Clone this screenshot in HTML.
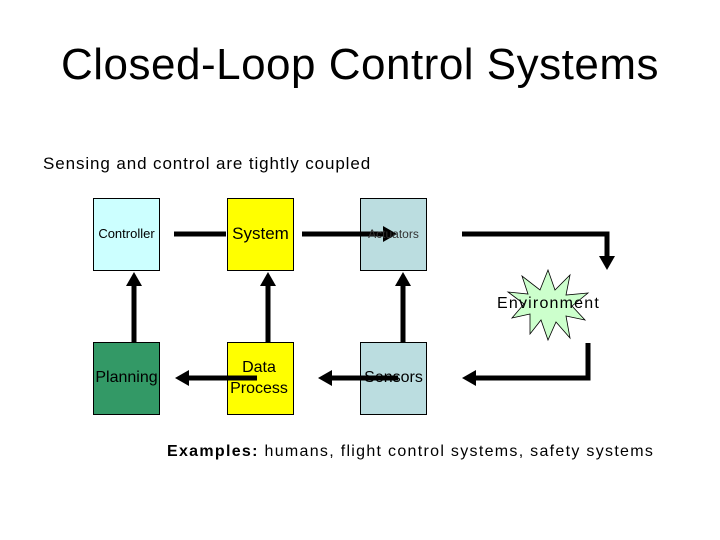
<!DOCTYPE html>
<html><head><style>
body{margin:0;width:720px;height:540px;background:#fff;position:relative;overflow:hidden;font-family:"Liberation Sans",sans-serif;}
.t{position:absolute;white-space:nowrap;color:#000;}
.b{position:absolute;border:1px solid #000;box-sizing:border-box;}
</style></head><body>
<div class="t" style="left:0;width:720px;text-align:center;top:40px;font-size:44px;letter-spacing:0.5px;">Closed-Loop Control Systems</div>
<div class="t" style="left:43px;top:154px;font-size:17px;letter-spacing:0.9px;">Sensing and control are tightly coupled</div>

<div class="b" style="left:93px;top:198px;width:67px;height:73px;background:#ccffff;"></div>
<div class="b" style="left:227px;top:198px;width:67px;height:73px;background:#ffff00;"></div>
<div class="b" style="left:360px;top:198px;width:67px;height:73px;background:#bbdde0;"></div>
<div class="b" style="left:93px;top:342px;width:67px;height:73px;background:#339966;"></div>
<div class="b" style="left:227px;top:342px;width:67px;height:73px;background:#ffff00;"></div>
<div class="b" style="left:360px;top:342px;width:67px;height:73px;background:#bbdde0;"></div>

<svg width="720" height="540" style="position:absolute;left:0;top:0">
<polygon points="548,270 555,290 570,275 566,295 588,293 572,306 585,320 566,316 570,338 556,322 548,340 541,320 530,334 530,314 512,318 524,304 508,292 528,294 522,276 540,290" fill="#ccffcc" stroke="#000" stroke-width="0.8"/>
<g stroke="#000" stroke-width="5" fill="none">
<line x1="174" y1="234" x2="226" y2="234"/>
<line x1="302" y1="234" x2="385" y2="234"/>
<polyline points="462,234 607,234 607,262"/>
<polyline points="588,343 588,378 475,378"/>
<line x1="398" y1="378" x2="330" y2="378"/>
<line x1="257" y1="378" x2="188" y2="378"/>
<line x1="134" y1="342" x2="134" y2="284"/>
<line x1="268" y1="342" x2="268" y2="284"/>
<line x1="403" y1="342" x2="403" y2="284"/>
</g>
<g fill="#000">
<polygon points="397,234 383,226 383,242"/>
<polygon points="607,270 599,256 615,256"/>
<polygon points="462,378 476,370 476,386"/>
<polygon points="318,378 332,370 332,386"/>
<polygon points="175,378 189,370 189,386"/>
<polygon points="134,272 126,286 142,286"/>
<polygon points="268,272 260,286 276,286"/>
<polygon points="403,272 395,286 411,286"/>
</g>
</svg>

<div class="t" style="left:93px;width:67px;text-align:center;top:226px;font-size:13px;">Controller</div>
<div class="t" style="left:227px;width:67px;text-align:center;top:224px;font-size:17px;">System</div>
<div class="t" style="left:360px;width:67px;text-align:center;top:227px;font-size:12px;color:#333;">Actuators</div>
<div class="t" style="left:497px;top:295px;font-size:16px;letter-spacing:1.2px;">Environment</div>
<div class="t" style="left:93px;width:67px;text-align:center;top:369px;font-size:16px;">Planning</div>
<div class="t" style="left:224px;width:70px;text-align:center;top:357px;font-size:16px;line-height:21px;">Data<br>Process</div>
<div class="t" style="left:360px;width:67px;text-align:center;top:369px;font-size:16px;">Sensors</div>
<div class="t" style="left:167px;top:443px;font-size:16px;letter-spacing:1.3px;"><b>Examples:</b> humans, flight control systems, safety systems</div>
</body></html>
